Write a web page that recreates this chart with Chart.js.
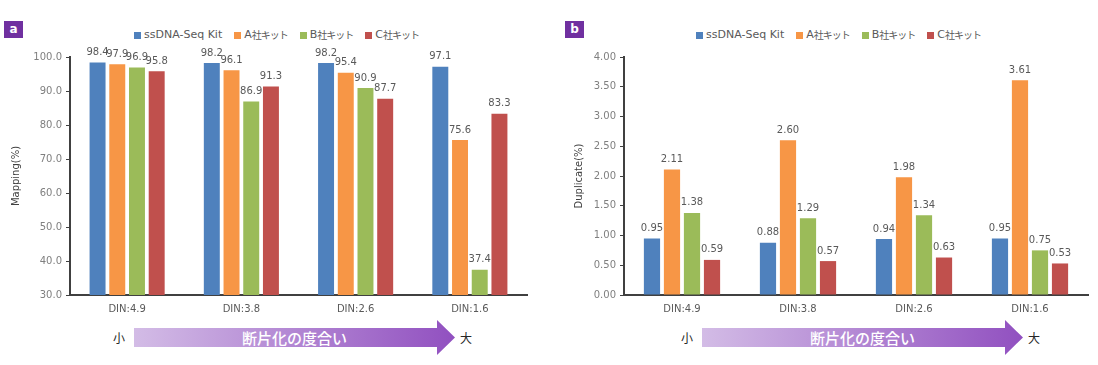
<!DOCTYPE html>
<html>
<head>
<meta charset="utf-8">
<script src="https://cdn.jsdelivr.net/npm/chart.js@4.4.0/dist/chart.umd.min.js"></script>
<style>
body{margin:0;background:#fff;width:1098px;height:365px;position:relative;overflow:hidden;font-family:"DejaVu Sans","Noto Sans CJK JP",sans-serif;}
.box{position:absolute;top:0;height:316px;}
.tag{position:absolute;top:21px;width:19px;height:17px;background:#7030a0;color:#fff;font:bold 12px "DejaVu Sans",sans-serif;text-align:center;line-height:16px;}
.legend{position:absolute;top:28px;display:flex;font:11px "DejaVu Sans","Noto Sans CJK JP",sans-serif;color:#595959;line-height:14px;white-space:nowrap;}
.legend span{display:flex;align-items:center;margin-right:12px;}
.legend i{display:inline-block;width:7px;height:7px;margin-right:3px;}
.legend em{font-style:normal;font-family:"Noto Sans CJK JP",sans-serif;font-size:10px;letter-spacing:-1px;}
.arrow{position:absolute;top:320px;width:321px;height:35px;clip-path:polygon(0 23%,94.4% 23%,94.4% 0,100% 50%,94.4% 100%,94.4% 77%,0 77%);background:linear-gradient(to right,#d3bce6,#9150c0);color:#fff;font:500 15px "Noto Sans CJK JP",sans-serif;text-align:center;line-height:35px;}
.end{position:absolute;top:329px;font:12px "Noto Sans CJK JP",sans-serif;color:#262626;}
</style>
</head>
<body>
<div class="tag" style="left:4px">a</div>
<div class="tag" style="left:565px">b</div>
<div class="legend" id="legA" style="left:134px"></div>
<div class="legend" id="legB" style="left:696px"></div>
<div class="box" style="left:0;width:528px"><canvas id="chartA"></canvas></div>
<div class="box" style="left:554px;width:535px"><canvas id="chartB"></canvas></div>
<div class="end" style="left:113px">小</div>
<div class="arrow" style="left:134px">断片化の度合い</div>
<div class="end" style="left:460px">大</div>
<div class="end" style="left:681px">小</div>
<div class="arrow" style="left:702px">断片化の度合い</div>
<div class="end" style="left:1028px">大</div>
<script>
var categories=["DIN:4.9","DIN:3.8","DIN:2.6","DIN:1.6"];
var seriesNames=["ssDNA-Seq Kit","A社キット","B社キット","C社キット"];
var colors=["#4f81bd","#f79646","#9bbb59","#c0504d"];
// Mapping(%)
var mapSs=[98.4,98.2,98.2,97.1];
var mapA=[97.9,96.1,95.4,75.6];
var mapB=[96.9,86.9,90.9,37.4];
var mapC=[95.8,91.3,87.7,83.3];
// Duplicate(%)
var dupSs=[0.95,0.88,0.94,0.95];
var dupA=[2.11,2.60,1.98,3.61];
var dupB=[1.38,1.29,1.34,0.75];
var dupC=[0.59,0.57,0.63,0.53];

var fontFam='"DejaVu Sans","Noto Sans CJK JP",sans-serif';

//legend built as html so it can sit where the original has it
function buildLegend(id) {
    var leg=document.getElementById(id);
    for(let i=0;i<seriesNames.length;i++) {
        var item=document.createElement("span");
        var name=seriesNames[i];
        //japanese part a bit narrower, like the original
        var text=name.replace(/(社キット)$/,'<em>$1</em>');
        item.innerHTML='<i style="background:'+colors[i]+'"></i>'+text;
        leg.appendChild(item);
    }
}
buildLegend("legA");
buildLegend("legB");

// draws the value above each bar
var valueLabels={
    id:'valueLabels',
    afterDatasetsDraw:function(chart,args,opts) {
        var ctx=chart.ctx;
        ctx.save();
        ctx.font='10px '+fontFam;
        ctx.fillStyle='#595959';
        ctx.textAlign='center';
        ctx.textBaseline='bottom';
        chart.data.datasets.forEach(function(ds,i) {
            chart.getDatasetMeta(i).data.forEach(function(bar,j) {
                ctx.fillText(ds.data[j].toFixed(opts.digits),bar.x,bar.y-5);
            });
        });
        ctx.restore();
    }
};

function makeChart(id,sets,yMin,yMax,step,digits,title,titlePad) {
    var datasets=[];
    for(let i=0;i<sets.length;i++) {
        datasets.push({label:seriesNames[i],data:sets[i],backgroundColor:colors[i],
            borderWidth:0,categoryPercentage:0.69,barPercentage:0.81});
    }
    return new Chart(document.getElementById(id),{
        type:'bar',
        data:{labels:categories,datasets:datasets},
        plugins:[valueLabels],
        options:{
            responsive:true,maintainAspectRatio:false,animation:false,
            layout:{padding:{top:57,right:1,bottom:0,left:0}},
            plugins:{
                legend:{display:false},
                tooltip:{enabled:false},
                valueLabels:{digits:digits}
            },
            scales:{
                x:{
                    afterFit:function(scale){scale.height=21;},
                    grid:{display:false,drawTicks:false},
                    border:{color:'#404040',width:2},
                    ticks:{color:'#595959',padding:8,font:{family:fontFam,size:10}}
                },
                y:{
                    min:yMin,max:yMax,
                    afterFit:function(scale){scale.width=70;},
                    grid:{drawOnChartArea:false,drawTicks:true,tickLength:4,color:'#404040',lineWidth:1},
                    border:{color:'#404040',width:2},
                    title:{display:true,text:title,color:'#404040',font:{family:fontFam,size:10},padding:{top:titlePad,bottom:0}},
                    ticks:{stepSize:step,color:'#7f7f7f',padding:4,font:{family:fontFam,size:10},
                        callback:function(v){return v.toFixed(digits);}}
                }
            }
        }
    });
}

makeChart('chartA',[mapSs,mapA,mapB,mapC],30,100,10,1,'Mapping(%)',10);
makeChart('chartB',[dupSs,dupA,dupB,dupC],0,4,0.5,2,'Duplicate(%)',19);
</script>
</body>
</html>
